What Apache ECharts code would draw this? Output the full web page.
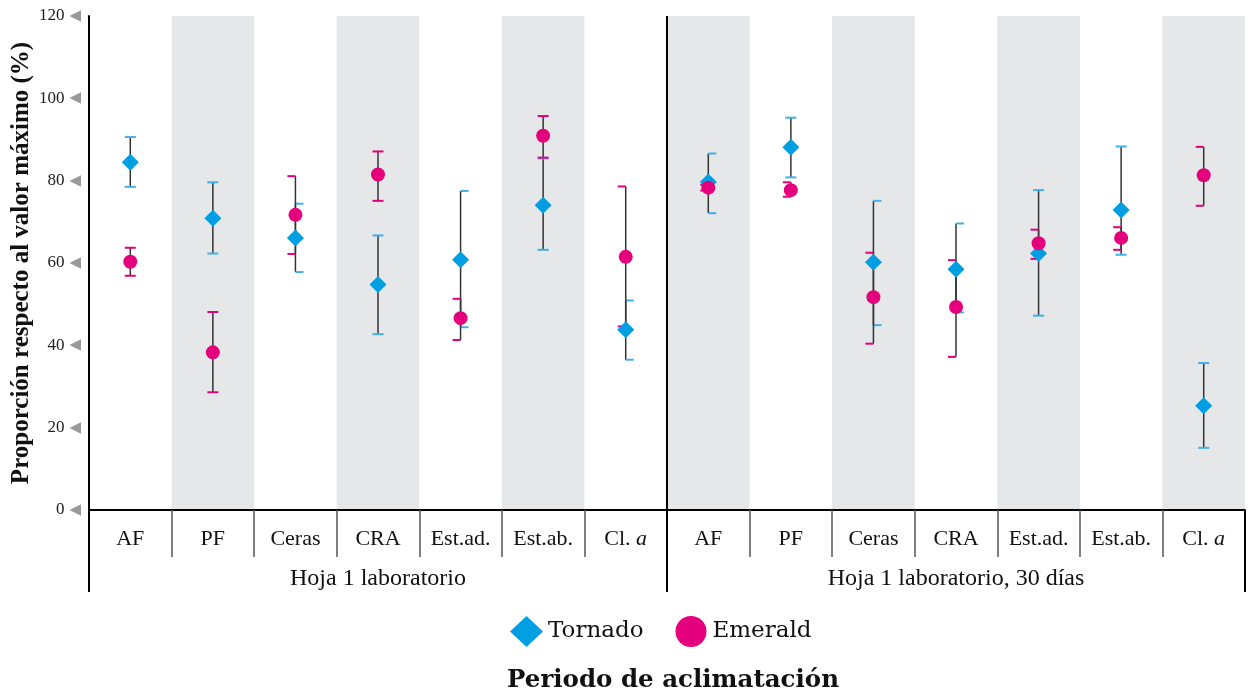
<!DOCTYPE html>
<html>
<head>
<meta charset="utf-8">
<script src="https://cdn.jsdelivr.net/npm/echarts@6/dist/echarts.min.js"></script>
<style>html,body{margin:0;padding:0;background:#fff}#c{width:1254px;height:696px}</style>
</head>
<body>
<div id="c"></div>
<script>
// ---- data ----
const groupCategories = ['AF', 'PF', 'Ceras', 'CRA', 'Est.ad.', 'Est.ab.', 'Cl. a'];
const groups = ['Hoja 1 laboratorio', 'Hoja 1 laboratorio, 30 días'];
const categories = groups.flatMap(() => groupCategories);
const yTicks = [0, 20, 40, 60, 80, 100, 120];

const tornadoMean = [84.5, 70.9, 66.1, 54.8, 60.8, 74.0, 43.8, 79.7, 88.1, 60.2, 58.5, 62.3, 72.9, 25.3];
const tornadoLow  = [78.5, 62.3, 57.8, 42.7, 44.4, 63.2, 36.5, 72.1, 80.8, 44.9, 48.0, 47.2, 62.0, 15.1];
const tornadoHigh = [90.6, 79.6, 74.4, 66.7, 77.5, 85.4, 50.9, 86.6, 95.3, 75.1, 69.6, 77.7, 88.3, 35.7];

const emeraldMean = [60.3, 38.3, 71.7, 81.5, 46.6, 90.9, 61.5, 78.3, 77.7, 51.7, 49.3, 64.8, 66.1, 81.3];
const emeraldLow  = [56.9, 28.6, 62.2, 75.1, 41.3, 85.6, 44.6, 77.6, 76.1, 40.4, 37.2, 61.0, 63.2, 73.9];
const emeraldHigh = [63.7, 48.1, 81.1, 87.1, 51.3, 95.7, 78.6, 79.0, 79.6, 62.5, 60.7, 68.1, 68.7, 88.2];

// ---- styles ----
const TORNADO = '#009fe3', TORNADO_CAP = '#3fb0e8';
const EMERALD = '#e4007c', EMERALD_CAP = '#e4007c';
const tornadoCapSide = ['both','both','right','both','right','both','right','right','both','right','right','both','both','both'];
const emeraldCapSide = ['both','both','left','both','left','both','left','left','left','left','left','left','left','left'];
const SERIF = 'Liberation Serif';

function errorSeries(name, low, high, capColor, capSide) {
  return {
    type: 'custom', name: name + ' err', z: 2, silent: true,
    xAxisIndex: 0, yAxisIndex: 0,
    data: low.map((l, i) => [i, l, high[i]]),
    renderItem: function (params, api) {
      const i = api.value(0);
      const p1 = api.coord([i, api.value(1)]);
      const p2 = api.coord([i, api.value(2)]);
      const side = capSide[params.dataIndex];
      let a, b;
      if (side === 'left') { a = -8; b = 0; }
      else if (side === 'right') { a = 0; b = 8; }
      else { a = -5.5; b = 5.5; }
      const capStyle = { stroke: capColor, lineWidth: 2 };
      return {
        type: 'group',
        children: [
          { type: 'line', shape: { x1: p1[0], y1: p1[1], x2: p2[0], y2: p2[1] }, style: { stroke: '#333', lineWidth: 1.5 } },
          { type: 'line', shape: { x1: p1[0] + a, y1: p1[1], x2: p1[0] + b, y2: p1[1] }, style: capStyle },
          { type: 'line', shape: { x1: p2[0] + a, y1: p2[1], x2: p2[0] + b, y2: p2[1] }, style: capStyle }
        ]
      };
    }
  };
}

const chart = echarts.init(document.getElementById('c'), null, { renderer: 'canvas' });
chart.setOption({
  animation: false,
  backgroundColor: '#fff',
  grid: { left: 89, right: 9, top: 16, bottom: 186, containLabel: false, outerBoundsMode: 'none' },
  title: {
    text: 'Periodo de aclimatación',
    left: 673, top: 668, padding: 0, textAlign: 'center',
    textStyle: { fontFamily: 'DejaVu Serif', fontWeight: 'bold', fontSize: 24.5, color: '#111' }
  },
  legend: {
    left: 510, top: 616, padding: 0, itemWidth: 33, itemHeight: 31, itemGap: 32,
    textStyle: { fontFamily: 'DejaVu Serif', fontSize: 23, color: '#111' },
    data: [
      { name: 'Tornado', icon: 'diamond', itemStyle: { color: TORNADO } },
      { name: 'Emerald', icon: 'circle', itemStyle: { color: EMERALD } }
    ]
  },
  xAxis: [
    {
      type: 'category', data: categories, position: 'bottom', boundaryGap: true,
      axisLine: { show: true, lineStyle: { color: '#000', width: 2 } },
      axisTick: { show: true, interval: 0, length: 47, lineStyle: { color: '#555', width: 1.5 } },
      axisLabel: {
        interval: 0, margin: 18, fontFamily: SERIF, fontSize: 22, color: '#111',
        formatter: v => v === 'Cl. a' ? 'Cl. {i|a}' : v,
        rich: { i: { fontFamily: SERIF, fontSize: 22, fontStyle: 'italic', color: '#111' } }
      },
      splitLine: { show: false },
      splitArea: { show: true, interval: 0, areaStyle: { color: ['rgba(255,255,255,0)', '#e6e7e9'] } }
    },
    {
      type: 'category', data: groups, position: 'bottom', boundaryGap: true,
      axisLine: { show: false },
      axisTick: { show: true, interval: 0, length: 82, lineStyle: { color: '#000', width: 2 } },
      axisLabel: { interval: 0, margin: 57, fontFamily: SERIF, fontSize: 24, color: '#111' },
      splitLine: { show: false }
    },
    { type: 'value', min: 0, max: categories.length, show: false }
  ],
  yAxis: {
    type: 'value', min: yTicks[0], max: yTicks[yTicks.length - 1], interval: yTicks[1] - yTicks[0],
    name: 'Proporción respecto al valor máximo (%)',
    nameLocation: 'middle', nameGap: 55, nameRotate: 90, nameMoveOverlap: false,
    nameTextStyle: { fontFamily: SERIF, fontWeight: 'bold', fontSize: 25, color: '#111' },
    axisLine: { show: true, lineStyle: { color: '#000', width: 2 } },
    axisTick: { show: false },
    splitLine: { show: false },
    axisLabel: {
      margin: 8,
      formatter: v => '{n|' + v + '}{g|◀}',
      rich: {
        n: { fontFamily: SERIF, fontSize: 17, color: '#222' },
        g: { fontFamily: 'DejaVu Sans', fontSize: 15, color: '#999', padding: [0, 0, 0, 5] }
      }
    }
  },
  series: [
    {
      type: 'line', xAxisIndex: 2, yAxisIndex: 0, data: [], silent: true,
      markLine: {
        silent: true, symbol: ['none', 'none'], label: { show: false },
        lineStyle: { color: '#000', width: 2, type: 'solid' },
        data: [{ xAxis: groupCategories.length }]
      }
    },
    errorSeries('Tornado', tornadoLow, tornadoHigh, TORNADO_CAP, tornadoCapSide),
    errorSeries('Emerald', emeraldLow, emeraldHigh, EMERALD_CAP, emeraldCapSide),
    {
      name: 'Tornado', type: 'scatter', z: 3, symbol: 'diamond', symbolSize: 17,
      itemStyle: { color: TORNADO, opacity: 1 },
      data: tornadoMean.map((v, i) => [i, v])
    },
    {
      name: 'Emerald', type: 'scatter', z: 4, symbol: 'circle', symbolSize: 14,
      itemStyle: { color: EMERALD, opacity: 1 },
      data: emeraldMean.map((v, i) => [i, v])
    }
  ]
});
</script>
</body>
</html>
